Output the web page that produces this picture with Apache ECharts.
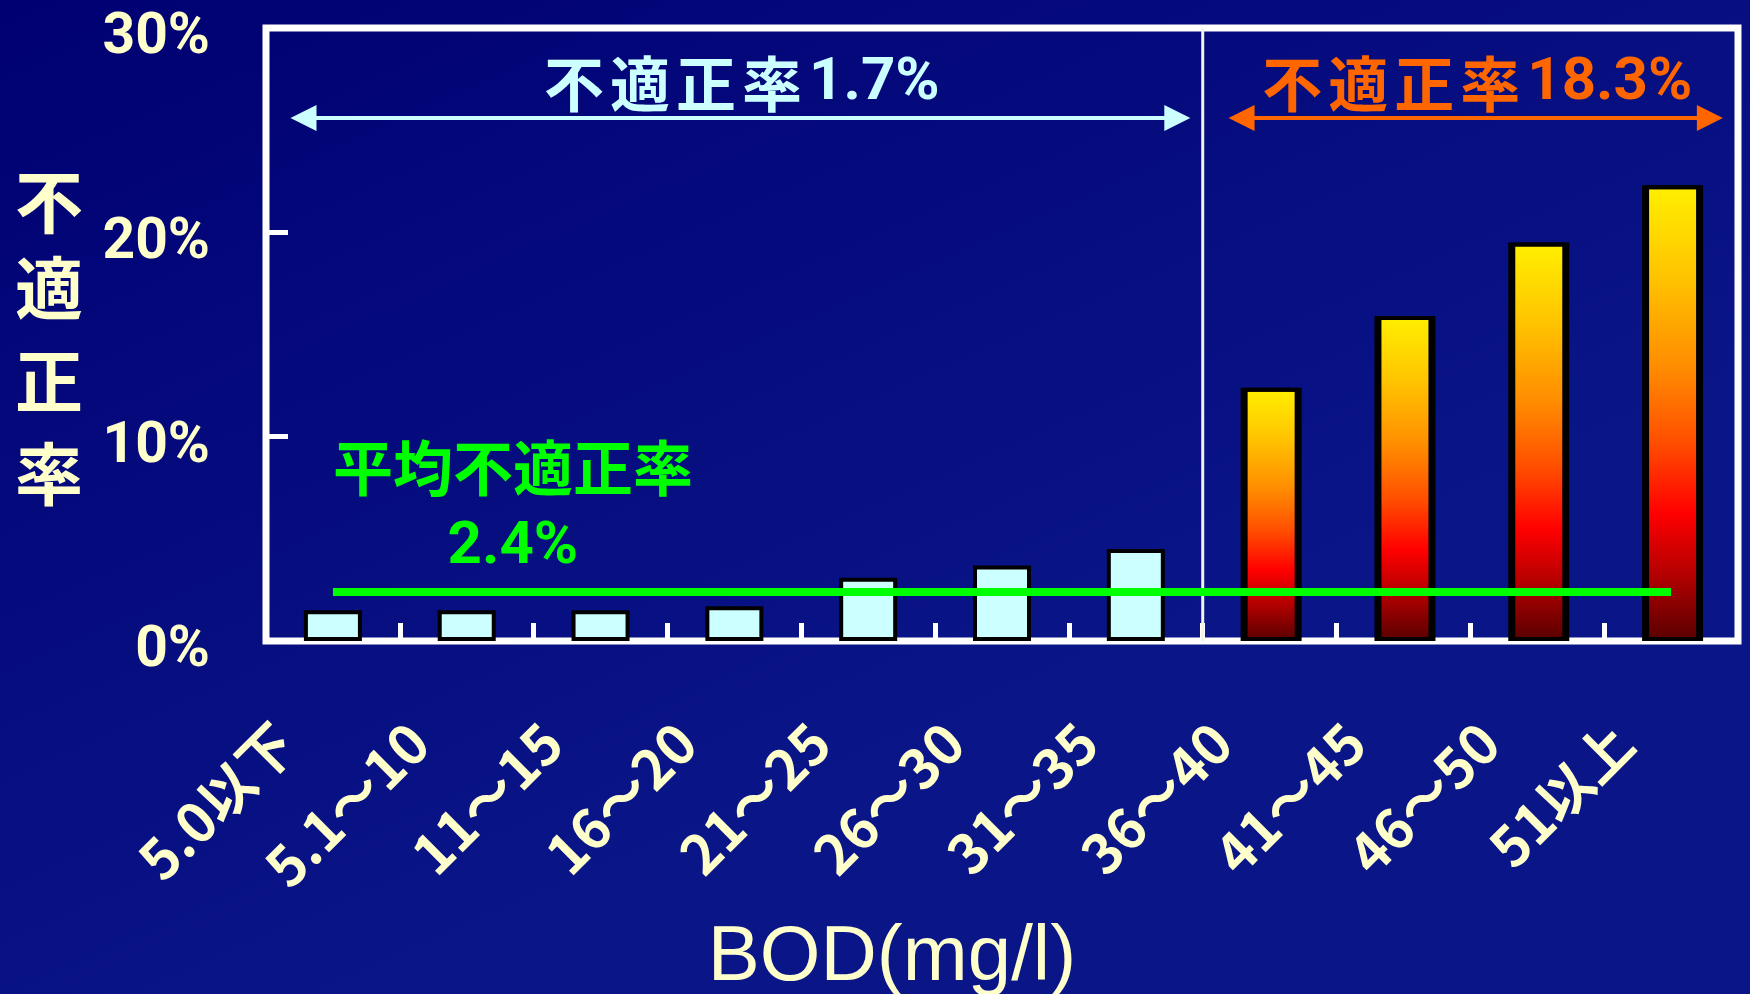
<!DOCTYPE html>
<html><head><meta charset="utf-8">
<script src="https://cdn.jsdelivr.net/npm/echarts@6/dist/echarts.min.js"></script>
<style>html,body{margin:0;padding:0;background:#00007a;}#c{width:1750px;height:994px;}</style>
</head><body><div id="c"></div>
<script>
// ---- data ----
const categories = ['5.0以下', '5.1～10', '11～15', '16～20', '21～25', '26～30', '31～35', '36～40', '41～45', '46～50', '51以上'];
const rates = [1.5, 1.5, 1.5, 1.7, 3.1, 3.7, 4.5, 12.4, 15.9, 19.5, 22.3];
const yTickValues = [0, 10, 20, 30];
const yAxisTitle = '不適正率';
const averageRate = 2.4;
const lowGroupRate = 1.7;
const highGroupRate = 18.3;
const highGroupStart = 7;              // first category index of the >35 group
const lowArrowSpan = [0.28, 6.81];     // in category units along the axis
const highArrowSpan = [7.29, 10.79];
const arrowLevel = 25.6;               // % level of the group arrows

// ---- styles ----
const CREAM = '#FFFFCC';
const CJK = "'Noto Sans CJK JP', sans-serif";
const NUM = "Roboto, 'Liberation Sans', sans-serif";

const hotGradient = new echarts.graphic.LinearGradient(0, 0, 0, 1, [
  { offset: 0, color: '#FFF000' },
  { offset: 0.2, color: '#FFC400' },
  { offset: 0.4, color: '#FF8C00' },
  { offset: 0.56, color: '#FF5000' },
  { offset: 0.72, color: '#FF0000' },
  { offset: 0.86, color: '#B00000' },
  { offset: 1, color: '#580000' }
]);

const barData = rates.map((v, i) => ({
  value: v,
  itemStyle: i >= highGroupStart
    ? { color: hotGradient, borderColor: '#000', borderWidth: 4, shadowColor: '#000', shadowOffsetX: 3, shadowOffsetY: 0, shadowBlur: 0 }
    : { color: '#CCFFFF', borderColor: '#000', borderWidth: 4 }
}));

function spaced(str) {
  return str.split('').map(ch => '{c|' + ch + '}').join('');
}

function groupLabel(color, rate) {
  return {
    show: true,
    position: 'insideMiddleTop',
    distance: 4,
    formatter: spaced('不適正率') + '{n|' + rate + '%}',
    rich: {
      c: { fontSize: 60, fontWeight: 'bold', fontFamily: CJK, color: color, padding: [0, 3, 0, 3] },
      n: { fontSize: 60, fontWeight: 'bold', fontFamily: NUM, color: color, padding: [0, 0, 0, 4] }
    }
  };
}

const titleChars = yAxisTitle.split('');
const yName = titleChars.map((ch, i) => '{' + (i === 0 ? 'f' : 't') + '|' + ch + '}').join('\n');
const titleTok = { color: CREAM, fontSize: 68, fontWeight: 'bold', fontFamily: CJK, lineHeight: 93 };

const chart = echarts.init(document.getElementById('c'));
chart.setOption({
  backgroundColor: {
    type: 'linear', x: 0, y: 0, x2: 0.25, y2: 1,
    colorStops: [{ offset: 0, color: '#000072' }, { offset: 1, color: '#0A1688' }]
  },
  animation: false,
  grid: {
    left: 266, right: 12, top: 28, bottom: 353,
    containLabel: false, outerBoundsMode: 'none',
    show: true, borderColor: '#FFFFFF', borderWidth: 7, backgroundColor: 'transparent'
  },
  xAxis: [{
    type: 'category',
    data: categories,
    axisLine: { show: false },
    axisTick: { show: true, inside: true, length: 18, lineStyle: { color: '#FFFFFF', width: 5 } },
    axisLabel: {
      interval: 0, rotate: 45, margin: 44, padding: [0, 68, 0, 0],
      color: CREAM, fontSize: 55, fontWeight: 'bold', fontFamily: CJK
    },
    name: 'BOD(mg/l)',
    nameLocation: 'middle',
    nameGap: 278,
    nameTextStyle: { color: CREAM, fontSize: 78, fontFamily: "'Liberation Sans', sans-serif", padding: [0, 220, 0, 0] }
  }, {
    type: 'value', min: 0, max: 11, show: false
  }],
  yAxis: {
    type: 'value', min: 0, max: 30, interval: 10,
    splitLine: { show: false },
    axisLine: { show: false },
    axisTick: { show: true, inside: true, length: 22, lineStyle: { color: '#FFFFFF', width: 5 } },
    axisLabel: {
      margin: 56,
      formatter: v => (yTickValues.includes(v) ? '{v|' + v + '%}' : ''),
      rich: {
        v: { color: CREAM, fontSize: 57, fontWeight: 'bold', fontFamily: NUM, padding: [22, 0, 0, 0] }
      }
    },
    name: yName,
    nameLocation: 'middle',
    nameRotate: 0,
    nameGap: 183,
    nameTextStyle: {
      color: CREAM, fontSize: 68, fontWeight: 'bold', fontFamily: CJK, lineHeight: 93,
      rich: { f: Object.assign({}, titleTok, { padding: [14, 0, 0, 0] }), t: titleTok }
    }
  },
  series: [{
    type: 'bar',
    data: barData,
    barWidth: 58,
    z: 2,
    markLine: {
      silent: true,
      symbol: 'none',
      lineStyle: { color: '#00FF00', width: 8, type: 'solid' },
      label: {
        show: true,
        position: 'insideStartTop',
        distance: [0, 4],
        formatter: '{a|平均不適正率}\n{b|' + averageRate + '%}',
        rich: {
          a: { fontSize: 60, fontWeight: 'bold', fontFamily: CJK, color: '#00FF00', lineHeight: 80 },
          b: { fontSize: 60, fontWeight: 'bold', fontFamily: NUM, color: '#00FF00', lineHeight: 80, width: 360, align: 'center' }
        }
      },
      data: [[{ coord: [categories[0], averageRate] }, { coord: [categories[categories.length - 1], averageRate] }]]
    }
  }, {
    type: 'line',
    xAxisIndex: 1,
    data: [[highGroupStart, 0], [highGroupStart, 30]],
    symbol: 'none',
    silent: true,
    z: 3,
    lineStyle: { color: '#F2F2E6', width: 3 },
    markLine: {
      silent: true,
      symbol: ['triangle', 'triangle'],
      symbolSize: [26, 26],
      data: [
        [{ coord: [lowArrowSpan[0], arrowLevel], lineStyle: { color: '#CCFFFF', width: 4, type: 'solid' }, label: groupLabel('#CCFFFF', lowGroupRate) },
         { coord: [lowArrowSpan[1], arrowLevel] }],
        [{ coord: [highArrowSpan[0], arrowLevel], lineStyle: { color: '#FF6600', width: 4, type: 'solid' }, label: groupLabel('#FF6600', highGroupRate) },
         { coord: [highArrowSpan[1], arrowLevel] }]
      ]
    }
  }]
});
</script></body></html>
